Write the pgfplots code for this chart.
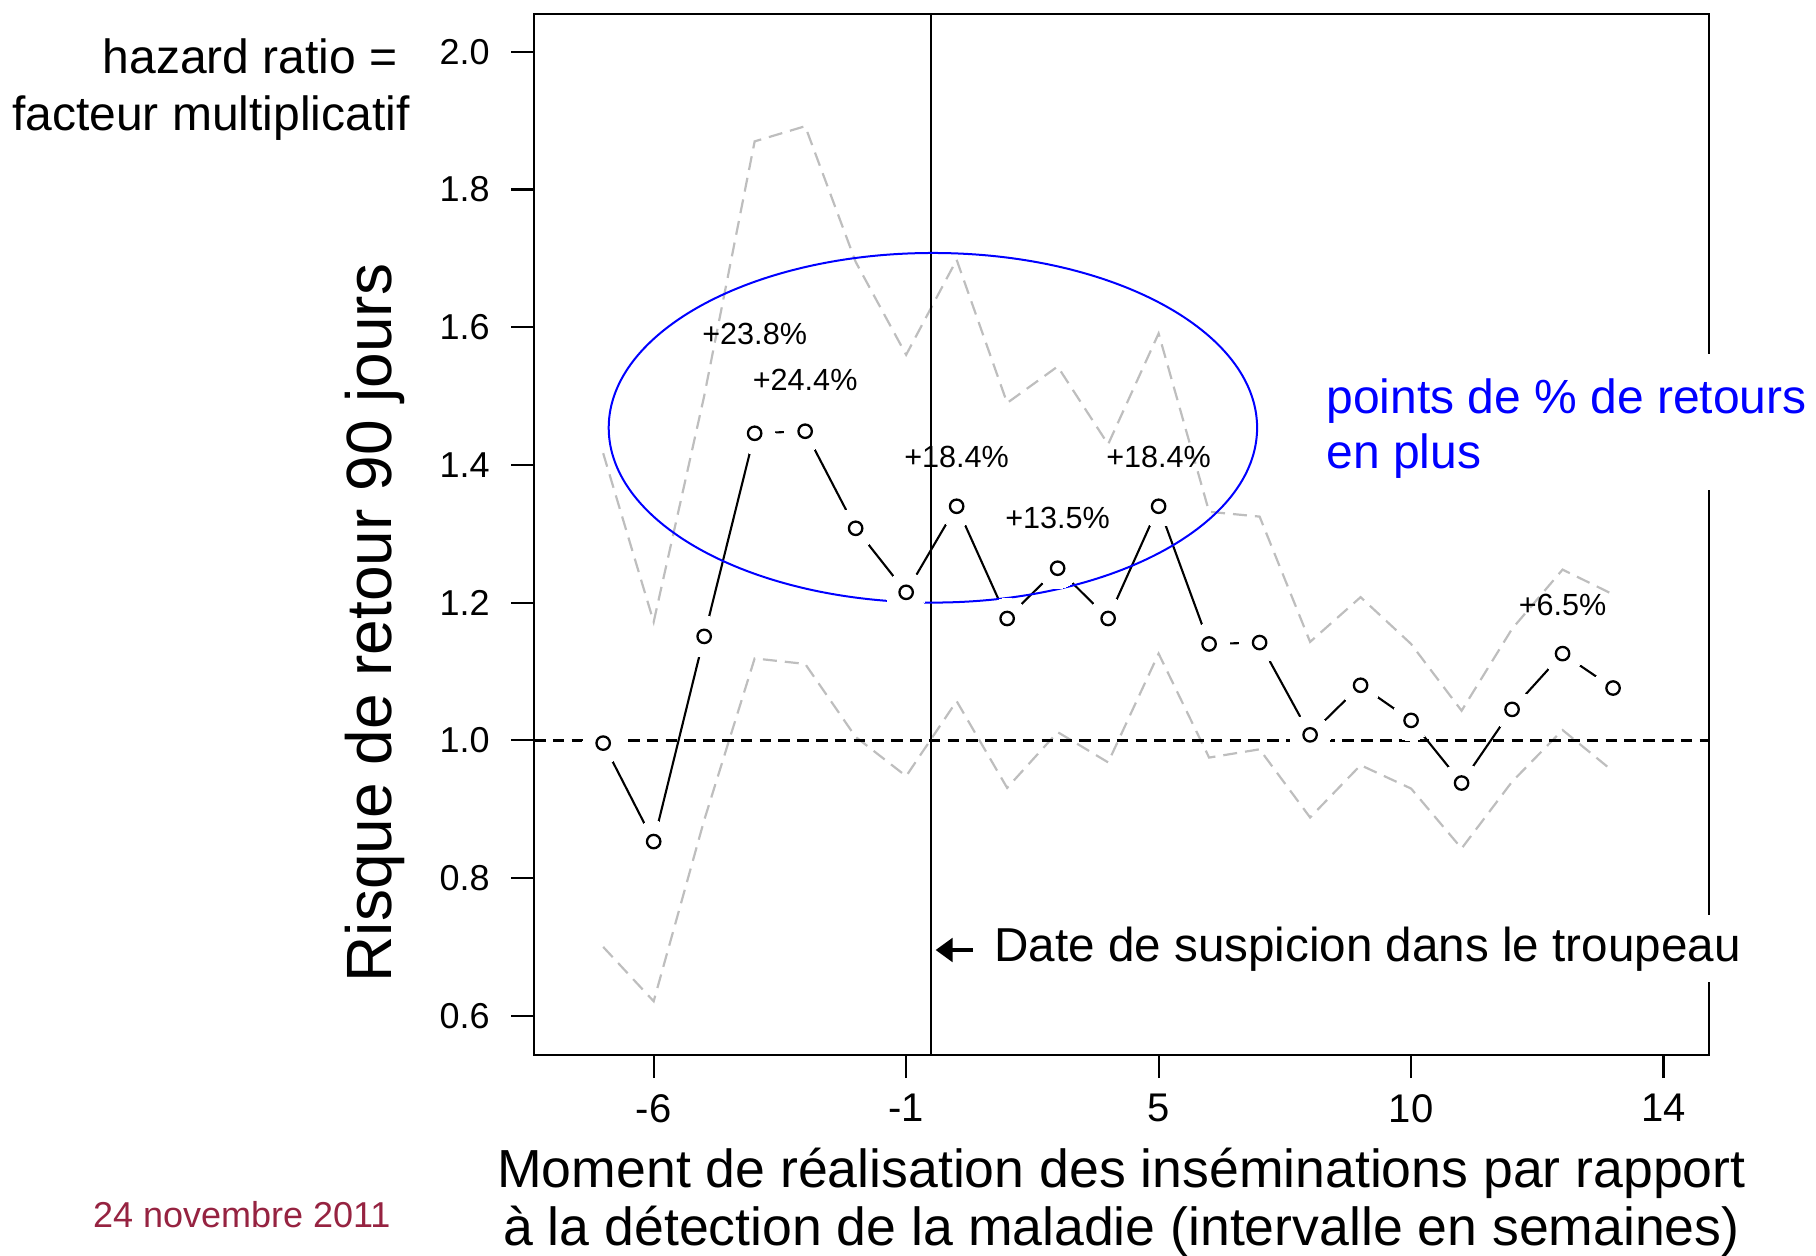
\documentclass[border=0pt]{standalone}
\usepackage{pgfplots}
\pgfplotsset{compat=1.18}
\usepackage{pgfplotstable}
\usepackage{fontspec}
\setmainfont{Liberation Sans}
\usetikzlibrary{arrows.meta}
\definecolor{cigray}{RGB}{190,190,190}
\definecolor{datered}{RGB}{150,35,65}

\pgfplotstableread{
idx est lo hi
1 0.996 0.700 1.417
2 0.853 0.621 1.172
3 1.151 0.884 1.500
4 1.446 1.119 1.870
5 1.449 1.111 1.892
6 1.308 1.005 1.695
7 1.215 0.948 1.560
8 1.340 1.057 1.698
9 1.177 0.931 1.490
10 1.250 1.012 1.543
11 1.177 0.968 1.430
12 1.340 1.126 1.591
13 1.140 0.975 1.332
14 1.142 0.987 1.325
15 1.008 0.888 1.143
16 1.080 0.964 1.208
17 1.029 0.930 1.140
18 0.938 0.843 1.043
19 1.045 0.940 1.162
20 1.126 1.015 1.248
21 1.076 0.955 1.212
}\hrdata

\begin{document}
\begin{tikzpicture}
\begin{axis}[
  at={(267pt,100pt)}, anchor=south west,
  scale only axis, width=587.5pt, height=520.5pt,
  xmin=-0.37, xmax=22.9, ymin=0.543, ymax=2.055,
  xtick={2,7,12,17,22}, xticklabels={-6,-1,5,10,14},
  ytick={0.6,0.8,1.0,1.2,1.4,1.6,1.8,2.0},
  yticklabels={0.6,0.8,1.0,1.2,1.4,1.6,1.8,2.0},
  tick align=outside, xtick pos=left, ytick pos=left,
  minor tick num=0,
  major tick length=11.5pt,
  axis line style={line width=1.1pt},
  every tick/.style={black, line width=1.1pt},
  xticklabel style={font=\fontsize{20}{22}\selectfont, anchor=north, inner sep=0pt, yshift=-8pt},
  yticklabel style={font=\fontsize{18}{20}\selectfont, anchor=east, inner sep=0pt, xshift=-10.5pt},
]
\addplot[black, line width=1.05pt] table[x=idx,y=est] {\hrdata};
\addplot[white, only marks, mark=*, mark size=10.2pt, mark options={fill=white, draw=white, line width=0pt}] table[x=idx,y=est] {\hrdata};
\addplot[cigray, line width=1.1pt, dash pattern=on 7pt off 4pt] table[x=idx,y=hi] {\hrdata};
\addplot[cigray, line width=1.1pt, dash pattern=on 7pt off 4pt] table[x=idx,y=lo] {\hrdata};
\addplot[black, line width=1.2pt, dash pattern=on 5.8pt off 3.6pt] coordinates {(-0.37,1) (22.9,1)};
\addplot[black, line width=1pt] coordinates {(7.5,0.543) (7.5,2.055)};
\draw[blue, line width=1pt] (axis cs:7.53,1.454) ellipse [x radius=162.1pt, y radius=87.4pt];
\addplot[black, only marks, mark=o, mark size=3.35pt, mark options={draw=black, line width=1.15pt}] table[x=idx,y=est] {\hrdata};
\node[font=\fontsize{15.3}{18}\selectfont] at (axis cs:4,1.590) {+23.8\%};
\node[font=\fontsize{15.3}{18}\selectfont] at (axis cs:5,1.523) {+24.4\%};
\node[font=\fontsize{15.3}{18}\selectfont] at (axis cs:8,1.411) {+18.4\%};
\node[font=\fontsize{15.3}{18}\selectfont] at (axis cs:10,1.3235) {+13.5\%};
\node[font=\fontsize{15.3}{18}\selectfont] at (axis cs:12,1.411) {+18.4\%};
\node[font=\fontsize{15.3}{18}\selectfont] at (axis cs:20,1.196) {+6.5\%};
\end{axis}
% white gaps in right border behind the texts
\fill[white] (851pt,382.5pt) rectangle (858pt,450.5pt);
\fill[white] (851pt,136.5pt) rectangle (858pt,170pt);
% annotation texts
\node[anchor=base west, inner sep=0pt, text=blue, font=\fontsize{24}{28}\selectfont] at (663pt,420.8pt) {points de \% de retours};
\node[anchor=base west, inner sep=0pt, text=blue, font=\fontsize{24}{28}\selectfont] at (663pt,393pt) {en plus};
\node[anchor=base west, inner sep=0pt, font=\fontsize{23.8}{28}\selectfont] at (497pt,146.7pt) {Date de suspicion dans le troupeau};
\draw[line width=2pt, -{Triangle[length=8.5pt,width=11.7pt]}] (486.3pt,152.5pt) -- (467.8pt,152.5pt);
% left texts
\node[anchor=base east, inner sep=0pt, font=\fontsize{24}{28}\selectfont] at (199pt,590.5pt) {hazard ratio =};
\node[anchor=base east, inner sep=0pt, font=\fontsize{24}{28}\selectfont] at (205pt,562pt) {facteur multiplicatif};
\node[anchor=base, inner sep=0pt, rotate=90, font=\fontsize{32}{36}\selectfont] at (195.7pt,316pt) {Risque de retour 90 jours};
% x label
\node[anchor=base, inner sep=0pt, font=\fontsize{26.8}{30}\selectfont] at (560.75pt,34pt) {Moment de réalisation des inséminations par rapport};
\node[anchor=base, inner sep=0pt, font=\fontsize{26.8}{30}\selectfont] at (560.75pt,5pt) {à la détection de la maladie (intervalle en semaines)};
% date
\node[anchor=base west, inner sep=0pt, text=datered, font=\fontsize{18}{22}\selectfont] at (46.3pt,13.75pt) {24 novembre 2011};
\pgfresetboundingbox
\useasboundingbox (0,0) rectangle (908pt,627.5pt);
\end{tikzpicture}
\end{document}
